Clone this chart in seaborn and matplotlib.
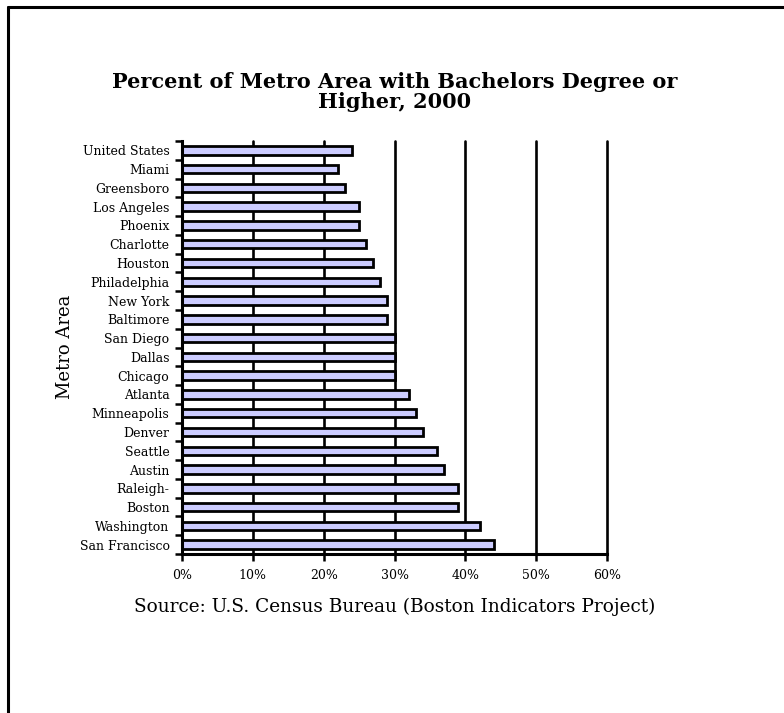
import matplotlib
matplotlib.use("Agg")
import matplotlib.pyplot as plt
from matplotlib.lines import Line2D
from matplotlib.ticker import FixedLocator, PercentFormatter
import seaborn as sns
import pandas as pd

# Share of adults with a bachelor's degree or higher, 2000 (percent)
metros = [
    "United States", "Miami", "Greensboro", "Los Angeles", "Phoenix",
    "Charlotte", "Houston", "Philadelphia", "New York", "Baltimore",
    "San Diego", "Dallas", "Chicago", "Atlanta", "Minneapolis", "Denver",
    "Seattle", "Austin", "Raleigh-", "Boston", "Washington", "San Francisco",
]
percent = [24, 22, 23, 25, 25, 26, 27, 28, 29, 29, 30, 30, 30, 32, 33, 34,
           36, 37, 39, 39, 42, 44]
x_ticks = [0, 10, 20, 30, 40, 50, 60]

title = "Percent of Metro Area with Bachelors Degree or\nHigher, 2000"
y_label = "Metro Area"
source = "Source: U.S. Census Bureau (Boston Indicators Project)"

df = pd.DataFrame({"metro": metros, "pct": percent})

sns.set_style("white")
plt.rcParams["font.family"] = ["DejaVu Serif"]
plt.rcParams["text.color"] = "black"
plt.rcParams["xtick.color"] = "black"
plt.rcParams["ytick.color"] = "black"
plt.rcParams["axes.labelcolor"] = "black"

fig = plt.figure(figsize=(7.84, 7.13), dpi=100)
ax = fig.add_axes([182 / 784, 1 - 554 / 713, 425 / 784, 413 / 713])

sns.barplot(data=df, x="pct", y="metro", orient="h", order=metros,
            color="#CCCCFF", saturation=1, edgecolor="black", linewidth=2,
            width=0.45, ax=ax, zorder=3)

ax.set_xlim(0, 60)
ax.set_ylim(len(metros) - 0.5, -0.5)

# vertical gridlines
for v in x_ticks[1:]:
    ax.axvline(v, color="black", lw=1.9, zorder=1, clip_on=False)

ax.xaxis.set_major_locator(FixedLocator(x_ticks))
ax.xaxis.set_major_formatter(PercentFormatter(decimals=0))
ax.tick_params(axis="x", which="major", direction="out", length=5, width=1.8,
               color="black", labelcolor="black", labelsize=9, pad=6,
               bottom=True)

# labels between category ticks
ax.yaxis.set_minor_locator(FixedLocator([i - 0.5 for i in range(len(metros) + 1)]))
ax.tick_params(axis="y", which="major", length=0, labelsize=9, pad=9,
               labelcolor="black")
ax.tick_params(axis="y", which="minor", direction="out", length=5, width=1.8,
               color="black", left=True)

for side in ("top", "right"):
    ax.spines[side].set_visible(False)
for side in ("left", "bottom"):
    ax.spines[side].set_visible(True)
    ax.spines[side].set_color("black")
    ax.spines[side].set_linewidth(2.2)
    ax.spines[side].set_zorder(4)

ax.set_xlabel("")
ax.set_ylabel("")

fig.text(395 / 784, 1 - 92 / 713, title, ha="center", va="center",
         fontsize=15, fontweight="bold", linespacing=1.05, color="black")
fig.text(65 / 784, 1 - 347 / 713, y_label, ha="center", va="center",
         rotation=90, fontsize=13, color="black")
fig.text(395 / 784, 1 - 607 / 713, source, ha="center", va="center",
         fontsize=13.3, color="black")

# outer frame (top and left edges)
fig.add_artist(Line2D([8 / 784, 8 / 784], [0, 1 - 7 / 713],
                      transform=fig.transFigure, color="black", lw=2.2))
fig.add_artist(Line2D([8 / 784, 1], [1 - 7 / 713, 1 - 7 / 713],
                      transform=fig.transFigure, color="black", lw=2.2))

fig.savefig("out.png", dpi=100, facecolor="white")
